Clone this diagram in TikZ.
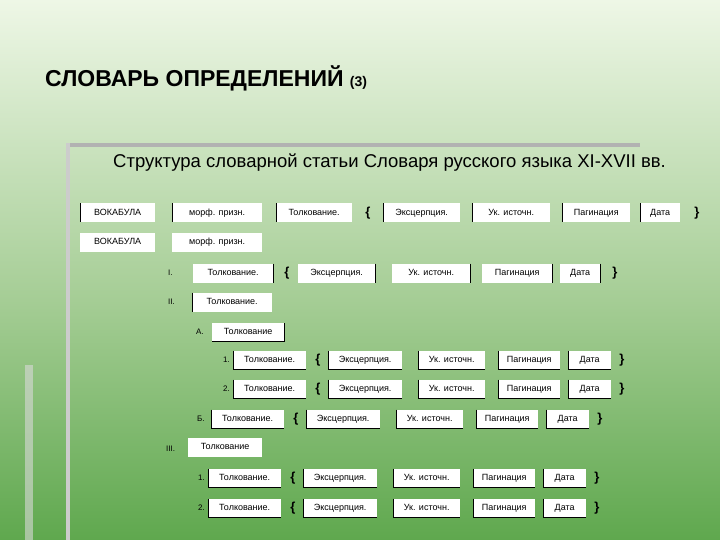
\documentclass[tikz,border=0pt]{standalone}
\usepackage{fontspec}
\setmainfont{Liberation Sans}
\definecolor{topg}{HTML}{EEF7E6}
\definecolor{midg}{HTML}{A5CD95}
\definecolor{botg}{HTML}{5FA84E}
\tikzset{
 bx/.style={fill=white,inner sep=0pt,font=\fontsize{9}{10}\selectfont,anchor=west,minimum height=19pt,text height=7pt,text depth=2pt},
 lbl/.style={font=\fontsize{8}{9}\selectfont,anchor=west,inner sep=0pt},
 br/.style={font=\fontsize{13}{14}\bfseries\selectfont,inner sep=0pt},
}
\begin{document}
\begin{tikzpicture}[x=1pt,y=-1pt]
\useasboundingbox (0,0) rectangle (720,540);
\shade[top color=topg,bottom color=midg] (0,0) rectangle (720,300);
\shade[top color=midg,bottom color=botg] (0,300) rectangle (720,540);
\fill[gray!60] (68,143) rectangle (640,147);
\fill[gray!40] (66,143) rectangle (70,540);
\fill[gray!30,opacity=0.6] (25,365) rectangle (33,540);
\node[anchor=west,inner sep=0pt,font=\fontsize{23}{26}\bfseries\selectfont] (title) at (45,78) {СЛОВАРЬ ОПРЕДЕЛЕНИЙ {\fontsize{14}{16}\selectfont(3)}};
\node[anchor=west,inner sep=0pt,font=\fontsize{18.5}{21}\selectfont] (sub) at (113,163) {Структура словарной статьи Словаря русского языка XI-XVII вв.};
% Row 1
\foreach \nm/\a/\b/\t in {r1a/80/155/ВОКАБУЛА, r1b/172/262/морф. призн., r1c/276/352/Толкование., r1d/383/460/Эксцерпция., r1e/472/550/Ук. источн., r1f/562/630/Пагинация, r1g/640/680/Дата}
 {\node[bx,minimum width={\b-\a}] (\nm) at (\a,213) {\t};
  \draw[black] (\a,203.5)--(\a,222.5);}
\node[br] (r1l) at (368,213) {\{}; \node[br] (r1r) at (697,213) {\}};
% Row 2
\foreach \nm/\a/\b/\t in {r2a/80/155/ВОКАБУЛА, r2b/172/262/морф. призн.}
 {\node[bx,minimum width={\b-\a}] (\nm) at (\a,242) {\t};}
% Row 3
\node[lbl] (l3) at (168,273) {I.};
\foreach \nm/\a/\b/\t in {r3c/193/273/Толкование., r3d/298/375/Эксцерпция., r3e/392/470/Ук. источн., r3f/482/552/Пагинация, r3g/560/600/Дата}
 {\node[bx,minimum width={\b-\a}] (\nm) at (\a,273) {\t};
  \draw[black] (\b,263.5)--(\b,282.5);}
\node[br] (r3l) at (287,273) {\{}; \node[br] (r3r) at (615,273) {\}};
% Row 4
\node[lbl] (l4) at (168,302) {II.};
\node[bx,minimum width=80] (r4c) at (192,302) {Толкование.};
\draw (192,292.5)--(192,311.5);
% Row 5
\node[lbl] (l5) at (196,332) {А.};
\node[bx,minimum width=72] (r5c) at (212,332) {Толкование};
\draw (212,341.5)--(284,341.5)--(284,322.5);
% Rows with brackets
\foreach \y/\lab/\x/\dx in {360/1./223/22, 389/2./223/22, 419/Б./197/0, 478/1./198/-3, 508/2./198/-3}{
 \node[lbl] at (\x,\y) {\lab};
 \foreach \a/\b/\t in {211/284/Толкование., 306/380/Эксцерпция., 396/463/Ук. источн., 476/538/Пагинация, 546/589/Дата}{
  \node[bx,minimum width={\b-\a}] at (\a+\dx,\y) {\t};
  \draw (\a+\dx,\y-9.5)--(\a+\dx,\y+9.5)--(\b+\dx,\y+9.5);}
 \node[br] at (296+\dx,\y) {\{}; \node[br] at (600+\dx,\y) {\}};
}
% Row 9
\node[lbl] (l9) at (166,449) {III.};
\node[bx,minimum width=74] (r9c) at (188,447) {Толкование};
\end{tikzpicture}
\end{document}
